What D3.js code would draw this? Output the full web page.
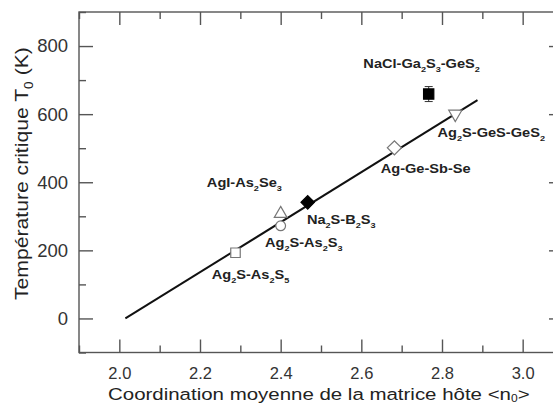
<!DOCTYPE html>
<html><head><meta charset="utf-8">
<script src="https://cdn.jsdelivr.net/npm/d3@7"></script>
<style>
html,body{margin:0;padding:0;background:#fff;}
svg{display:block;font-family:"Liberation Sans",Arial,sans-serif;}
</style></head>
<body><svg id="c" width="553" height="405"></svg>
<script>
// ---- data ----
const pointNames = ["Ag2S-As2S5","Ag2S-As2S3","AgI-As2Se3","Na2S-B2S3","Ag-Ge-Sb-Se","Ag2S-GeS-GeS2","NaCl-Ga2S3-GeS2"];
const pointX = [2.288, 2.40, 2.40, 2.467, 2.682, 2.833, 2.767];
const pointY = [193, 272, 312, 341, 501, 596, 659];
const pointErr = [0, 0, 0, 0, 0, 0, 22];
const pointShape = ["square","circle","triangle","diamond","diamond","triangleDown","square"];
const pointFilled = [false,false,false,true,false,false,true];
const fitX = [2.015, 2.888];
const fitY = [0, 641];
// label anchors (data coords) with segments [text, isSub]
const labelX = [2.229, 2.361, 2.217, 2.465, 2.648, 2.789, 2.605];
const labelY = [116, 209, 386, 277, 428, 534, 735];
const labelParts = [
  [["Ag",0],["2",1],["S-As",0],["2",1],["S",0],["5",1]],
  [["Ag",0],["2",1],["S-As",0],["2",1],["S",0],["3",1]],
  [["AgI-As",0],["2",1],["Se",0],["3",1]],
  [["Na",0],["2",1],["S-B",0],["2",1],["S",0],["3",1]],
  [["Ag-Ge-Sb-Se",0]],
  [["Ag",0],["2",1],["S-GeS-GeS",0],["2",1]],
  [["NaCl-Ga",0],["2",1],["S",0],["3",1],["-GeS",0],["2",1]]
];
const xTicks = [2.0, 2.2, 2.4, 2.6, 2.8, 3.0];
const xMinor = [1.9, 2.1, 2.3, 2.5, 2.7, 2.9, 3.1];
const yTicks = [0, 200, 400, 600, 800];
const yMinor = [-100, 100, 300, 500, 700, 900];
const xTitleParts = [["Coordination moyenne de la matrice hôte <n",0],["0",1],[">",0]];
const yTitleParts = [["Température critique T",0],["0",1],[" (K)",0]];

// ---- layout ----
const L = 79, R = 563, T = 12, B = 352.5;
const x = d3.scaleLinear().domain([1.9, 3.1]).range([L, R]);
const y = d3.scaleLinear().domain([-100, 900]).range([B, T]);
const svg = d3.select("#c");
const axisCol = "#555";

svg.append("rect").attr("x", L).attr("y", T).attr("width", R - L).attr("height", B - T)
  .attr("fill", "none").attr("stroke", axisCol).attr("stroke-width", 1.4);

function inward(g) {
  g.selectAll(".tick line").attr("stroke", axisCol).attr("stroke-width", 1.4);
  g.select(".domain").remove();
}
const gb = svg.append("g").attr("transform", `translate(0,${B})`)
  .call(d3.axisBottom(x).tickValues(xTicks).tickSize(-13).tickPadding(15).tickFormat(d3.format(".1f")));
inward(gb);
gb.selectAll("text").attr("font-size", 16.5).attr("fill", "#333").attr("font-family", "Liberation Sans, Arial, sans-serif");
svg.append("g").attr("transform", `translate(0,${B})`)
  .call(d3.axisBottom(x).tickValues(xMinor).tickSize(-7).tickFormat("")).call(inward);
svg.append("g").attr("transform", `translate(0,${T})`)
  .call(d3.axisTop(x).tickValues(xTicks).tickSize(-13).tickFormat("")).call(inward);
svg.append("g").attr("transform", `translate(0,${T})`)
  .call(d3.axisTop(x).tickValues(xMinor).tickSize(-7).tickFormat("")).call(inward);
const gl = svg.append("g").attr("transform", `translate(${L},0)`)
  .call(d3.axisLeft(y).tickValues(yTicks).tickSize(-14).tickPadding(11));
inward(gl);
gl.selectAll("text").attr("font-size", 18.5).attr("fill", "#333").attr("font-family", "Liberation Sans, Arial, sans-serif");
svg.append("g").attr("transform", `translate(${L},0)`)
  .call(d3.axisLeft(y).tickValues(yMinor).tickSize(-7).tickFormat("")).call(inward);
svg.append("g").attr("transform", `translate(${R},0)`)
  .call(d3.axisRight(y).tickValues(yTicks).tickSize(-14).tickFormat("")).call(inward);
svg.append("g").attr("transform", `translate(${R},0)`)
  .call(d3.axisRight(y).tickValues(yMinor).tickSize(-7).tickFormat("")).call(inward);

// fit line
svg.append("path").datum(fitX.map((v, i) => [v, fitY[i]]))
  .attr("d", d3.line().x(d => x(d[0])).y(d => y(d[1])))
  .attr("stroke", "#111").attr("stroke-width", 2).attr("fill", "none");

// error bars
pointX.forEach((px, i) => {
  if (!pointErr[i]) return;
  const cx = x(px), y1 = y(pointY[i] - pointErr[i]), y2 = y(pointY[i] + pointErr[i]);
  svg.append("line").attr("x1", cx).attr("x2", cx).attr("y1", y1).attr("y2", y2).attr("stroke", "#333").attr("stroke-width", 1);
  [y1, y2].forEach(yy => svg.append("line").attr("x1", cx - 4).attr("x2", cx + 4).attr("y1", yy).attr("y2", yy).attr("stroke", "#333").attr("stroke-width", 1));
});

// markers
const sym = {
  square: [d3.symbolSquare, 0, 90],
  circle: [d3.symbolCircle, 0, 75],
  triangle: [d3.symbolTriangle, 0, 70],
  triangleDown: [d3.symbolTriangle, 180, 75],
  diamond: [d3.symbolSquare, 45, 100]
};
pointX.forEach((px, i) => {
  const s = sym[pointShape[i]];
  let size = s[2];
  if (pointShape[i] === "square" && pointFilled[i]) size = 105;
  if (pointShape[i] === "diamond" && pointFilled[i]) size = 90;
  let cy = y(pointY[i]);
  if (pointShape[i] === "triangle") cy += 1.5;
  if (pointShape[i] === "triangleDown") cy -= 1.5;
  svg.append("path").attr("d", d3.symbol().type(s[0]).size(size)())
    .attr("transform", `translate(${x(px)},${cy}) rotate(${s[1]})`)
    .attr("fill", pointFilled[i] ? "#000" : "#fff")
    .attr("stroke", pointFilled[i] ? "#000" : "#777").attr("stroke-width", 1.2);
});

function addParts(t, parts, subSize, shift) {
  let prevSub = false;
  parts.forEach(([s, sub]) => {
    const ts = t.append("tspan").text(s);
    if (sub) { ts.attr("font-size", subSize).attr("dy", prevSub ? 0 : shift); }
    else if (prevSub) ts.attr("dy", -shift);
    prevSub = !!sub;
  });
}

// labels (slightly widened as in the reference)
labelParts.forEach((parts, i) => {
  const t = svg.append("text")
    .attr("transform", `translate(${x(labelX[i])},${y(labelY[i])}) scale(1.14,1)`)
    .attr("font-size", 12.8).attr("font-weight", "bold").attr("fill", "#222");
  addParts(t, parts, 8, 4);
});

// axis titles
const xt = svg.append("text").attr("x", 108).attr("y", 400).attr("font-size", 17).attr("fill", "#222");
addParts(xt, xTitleParts, 10, 2);
const xw = xt.node().getComputedTextLength();
xt.attr("transform", `translate(108,0) scale(${422 / xw},1) translate(-108,0)`);

const yt = svg.append("text").attr("font-size", 18.5).attr("fill", "#222");
addParts(yt, yTitleParts, 12, 5);
const yw = yt.node().getComputedTextLength();
yt.attr("transform", `translate(27.5,300) rotate(-90) scale(${253 / yw},1)`);
</script></body></html>
